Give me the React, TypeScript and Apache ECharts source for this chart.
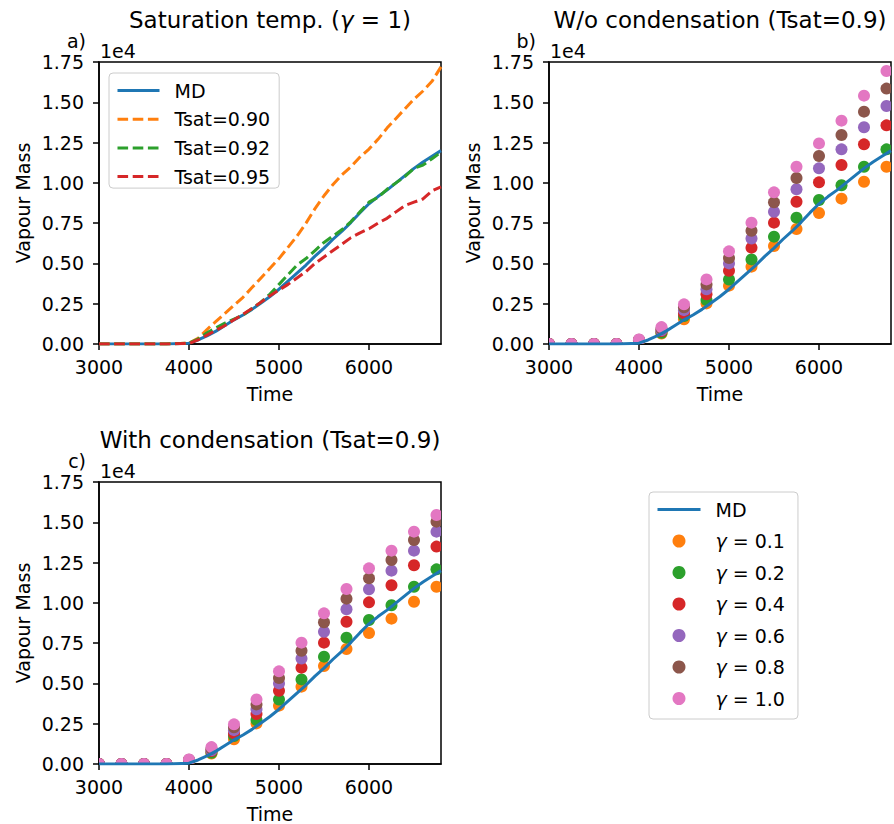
import React, { useEffect, useRef } from 'react';
import * as echarts from 'echarts';

const FONT = 'DejaVu Sans';

// ---------- Panel a: saturation temperature (gamma = 1) ----------
const timeA = [3000, 3250, 3500, 3750, 4000, 4100, 4200, 4300, 4400, 4500, 4600, 4700, 4800, 4900, 5000, 5100, 5200, 5300, 5400, 5500, 5600, 5700, 5800, 5900, 6000, 6100, 6200, 6300, 6400, 6500, 6600, 6700, 6800];
const mdMass = [0, 0, 0, 0, 0.005, 0.025, 0.05, 0.08, 0.115, 0.15, 0.18, 0.215, 0.255, 0.295, 0.34, 0.39, 0.44, 0.49, 0.545, 0.595, 0.65, 0.7, 0.755, 0.815, 0.87, 0.915, 0.955, 1.0, 1.045, 1.09, 1.13, 1.165, 1.2];
const tsat090 = [0, 0, 0, 0, 0.005, 0.035, 0.09, 0.14, 0.19, 0.24, 0.29, 0.35, 0.41, 0.47, 0.53, 0.6, 0.67, 0.75, 0.84, 0.92, 0.99, 1.05, 1.1, 1.16, 1.21, 1.27, 1.34, 1.4, 1.46, 1.52, 1.57, 1.63, 1.72];
const tsat092 = [0, 0, 0, 0, 0.005, 0.03, 0.07, 0.1, 0.13, 0.155, 0.18, 0.22, 0.26, 0.31, 0.37, 0.43, 0.49, 0.53, 0.58, 0.63, 0.67, 0.71, 0.76, 0.82, 0.88, 0.91, 0.96, 1.0, 1.04, 1.09, 1.11, 1.15, 1.19];
const tsat095 = [0, 0, 0, 0, 0.003, 0.025, 0.055, 0.085, 0.115, 0.15, 0.185, 0.22, 0.26, 0.3, 0.335, 0.37, 0.41, 0.45, 0.5, 0.54, 0.58, 0.62, 0.66, 0.69, 0.715, 0.75, 0.78, 0.82, 0.86, 0.88, 0.9, 0.95, 0.975];

// ---------- Panels b and c: dots ----------
const timeDots = [3000, 3250, 3500, 3750, 4000, 4250, 4500, 4750, 5000, 5250, 5500, 5750, 6000, 6250, 6500, 6750];
const gammaNames = ['γ = 0.1', 'γ = 0.2', 'γ = 0.4', 'γ = 0.6', 'γ = 0.8', 'γ = 1.0'];
const gammaColors = ['#ff7f0e', '#2ca02c', '#d62728', '#9467bd', '#8c564b', '#e377c2'];

// W/o condensation (Tsat = 0.9)
const noCond01 = [0, 0, 0, 0, 0.02, 0.065, 0.153, 0.252, 0.362, 0.48, 0.608, 0.714, 0.813, 0.902, 1.007, 1.10];
const noCond02 = [0, 0, 0, 0, 0.02, 0.07, 0.174, 0.273, 0.40, 0.525, 0.666, 0.784, 0.894, 0.985, 1.10, 1.208];
const noCond04 = [0, 0, 0, 0, 0.022, 0.08, 0.19, 0.308, 0.455, 0.598, 0.753, 0.883, 1.003, 1.111, 1.239, 1.357];
const noCond06 = [0, 0, 0, 0, 0.024, 0.085, 0.21, 0.339, 0.50, 0.654, 0.821, 0.96, 1.09, 1.208, 1.345, 1.477];
const noCond08 = [0, 0, 0, 0, 0.026, 0.095, 0.228, 0.37, 0.534, 0.703, 0.879, 1.03, 1.167, 1.297, 1.442, 1.585];
const noCond10 = [0, 0, 0, 0, 0.028, 0.105, 0.246, 0.401, 0.575, 0.753, 0.941, 1.10, 1.245, 1.386, 1.541, 1.694];

// With condensation (Tsat = 0.9)
const cond01 = [0, 0, 0, 0, 0.02, 0.065, 0.153, 0.252, 0.362, 0.48, 0.608, 0.714, 0.813, 0.902, 1.007, 1.10];
const cond02 = [0, 0, 0, 0, 0.02, 0.07, 0.174, 0.273, 0.40, 0.525, 0.666, 0.784, 0.894, 0.985, 1.10, 1.208];
const cond04 = [0, 0, 0, 0, 0.022, 0.08, 0.19, 0.31, 0.455, 0.598, 0.753, 0.883, 1.003, 1.109, 1.233, 1.349];
const cond06 = [0, 0, 0, 0, 0.024, 0.085, 0.21, 0.34, 0.50, 0.654, 0.821, 0.96, 1.084, 1.20, 1.324, 1.442];
const cond08 = [0, 0, 0, 0, 0.026, 0.095, 0.228, 0.37, 0.534, 0.703, 0.879, 1.026, 1.152, 1.266, 1.39, 1.504];
const cond10 = [0, 0, 0, 0, 0.028, 0.105, 0.246, 0.40, 0.575, 0.753, 0.935, 1.086, 1.214, 1.324, 1.442, 1.545];

const xTicks = [3000, 4000, 5000, 6000];
const yTickStep = 0.25;

const noCondSets = [noCond01, noCond02, noCond04, noCond06, noCond08, noCond10];
const condSets = [cond01, cond02, cond04, cond06, cond08, cond10];

const BLUE = '#1f77b4';

function buildOption() {
  const grids = [
    { left: 99, top: 62, width: 342, height: 282 },
    { left: 549, top: 62, width: 342, height: 282 },
    { left: 99, top: 482, width: 342, height: 282 },
  ].map((g) => ({ ...g, show: true, borderColor: '#000', borderWidth: 1.5, backgroundColor: 'transparent' }));

  const tickStyle = { color: '#000', fontSize: 19, fontFamily: FONT };

  const xAxes = [0, 1, 2].map((i) => ({
    type: 'value',
    gridIndex: i,
    min: 3000,
    max: 6800,
    name: 'Time',
    nameLocation: 'middle',
    nameGap: 40,
    nameTextStyle: { ...tickStyle },
    axisLine: { show: true, onZero: false, lineStyle: { color: '#000', width: 1.5 } },
    axisTick: { show: true, length: 6, lineStyle: { color: '#000', width: 1.5 }, customValues: xTicks },
    axisLabel: { ...tickStyle, margin: 13, customValues: xTicks, formatter: (v: number) => String(v) },
    splitLine: { show: false },
  }));

  const yAxes = [0, 1, 2].map((i) => ({
    type: 'value',
    gridIndex: i,
    min: 0,
    max: 1.75,
    interval: yTickStep,
    name: 'Vapour Mass',
    nameLocation: 'middle',
    nameRotate: 90,
    nameGap: 67,
    nameTextStyle: { ...tickStyle },
    axisLine: { show: true, onZero: false, lineStyle: { color: '#000', width: 1.5 } },
    axisTick: { show: true, length: 6, lineStyle: { color: '#000', width: 1.5 } },
    axisLabel: { ...tickStyle, margin: 15, formatter: (v: number) => v.toFixed(2) },
    splitLine: { show: false },
  }));

  const lineSeries = (name: string, color: string, vals: number[], idx: number, dashed: boolean, z: number) => ({
    type: 'line',
    name,
    xAxisIndex: idx,
    yAxisIndex: idx,
    data: timeA.map((t, k) => [t, vals[k]]),
    symbol: 'none',
    showSymbol: false,
    smooth: false,
    z,
    itemStyle: { color, opacity: 0 },
    lineStyle: { color, width: 3, type: dashed ? [10.6, 4.6] : 'solid' },
    emphasis: { disabled: true },
  });

  const dotSeries = (name: string, color: string, vals: number[], idx: number) => ({
    type: 'custom',
    name,
    xAxisIndex: idx,
    yAxisIndex: idx,
    clip: true,
    z: 2,
    itemStyle: { color },
    encode: { x: 0, y: 1 },
    data: timeDots.map((t, k) => [t, vals[k]]),
    renderItem: (params: any, api: any) => {
      const p = api.coord([api.value(0), api.value(1)]);
      return { type: 'circle', shape: { cx: p[0], cy: p[1], r: 6 }, style: { fill: color } };
    },
  });

  const series: any[] = [
    lineSeries('MD', BLUE, mdMass, 0, false, 2),
    lineSeries('Tsat=0.90', '#ff7f0e', tsat090, 0, true, 2),
    lineSeries('Tsat=0.92', '#2ca02c', tsat092, 0, true, 2),
    lineSeries('Tsat=0.95', '#d62728', tsat095, 0, true, 2),
  ];
  gammaNames.forEach((n, k) => series.push(dotSeries(n, gammaColors[k], noCondSets[k], 1)));
  series.push(lineSeries('MD', BLUE, mdMass, 1, false, 3));
  gammaNames.forEach((n, k) => series.push(dotSeries(n, gammaColors[k], condSets[k], 2)));
  series.push(lineSeries('MD', BLUE, mdMass, 2, false, 3));

  const legendText = {
    color: '#000',
    fontSize: 19,
    fontFamily: FONT,
    padding: [0, 0, 0, 10],
    rich: {
      g: { fontSize: 19, fontFamily: FONT, fontStyle: 'italic', color: '#000' },
      t: { fontSize: 19, fontFamily: FONT, color: '#000' },
    },
  };
  const legendBox = {
    orient: 'vertical',
    backgroundColor: 'rgba(255,255,255,0.8)',
    borderColor: '#cccccc',
    borderWidth: 1,
    borderRadius: 4,
    selectedMode: false,
    textStyle: legendText,
    lineStyle: { width: 3 },
    formatter: (name: string) => (name.startsWith('γ') ? '{g|γ}{t|' + name.slice(1) + '}' : name),
  };
  const hiddenSym = { opacity: 0 };

  const legends = [
    {
      ...legendBox,
      data: ['MD', 'Tsat=0.90', 'Tsat=0.92', 'Tsat=0.95'].map((n) => ({ name: n, itemStyle: hiddenSym })),
      left: 109,
      top: 73,
      itemWidth: 42,
      itemHeight: 14,
      itemGap: 9.7,
      padding: [8, 9, 2, 7],
    },
    {
      ...legendBox,
      data: [{ name: 'MD', itemStyle: hiddenSym }, ...gammaNames.map((n) => ({ name: n, icon: 'circle' }))],
      left: 649,
      top: 492,
      itemWidth: 43,
      itemHeight: 13,
      itemGap: 12.5,
      padding: [8, 13, 11, 7],
    },
  ];

  const txt = (x: number, y: number, text: string, size: number, align: string, rich?: any) => ({
    type: 'text',
    x,
    y,
    silent: true,
    style: { text, fontSize: size, fontFamily: FONT, fill: '#000', align, verticalAlign: 'middle', rich },
  });
  const titleRich = {
    n: { fontSize: 23, fontFamily: FONT, fill: '#000' },
    i: { fontSize: 23, fontFamily: FONT, fill: '#000', fontStyle: 'italic' },
  };

  const graphic = [
    txt(270, 20, '{n|Saturation temp. (}{i|γ}{n| = 1)}', 23, 'center', titleRich),
    txt(720, 20, 'W/o condensation (Tsat=0.9)', 23, 'center'),
    txt(270, 440, 'With condensation (Tsat=0.9)', 23, 'center'),
    txt(86, 41, 'a)', 19, 'right'),
    txt(536, 41, 'b)', 19, 'right'),
    txt(86, 461, 'c)', 19, 'right'),
    txt(100, 51, '1e4', 19, 'left'),
    txt(550, 51, '1e4', 19, 'left'),
    txt(100, 471, '1e4', 19, 'left'),
  ];

  return {
    animation: false,
    backgroundColor: '#fff',
    grid: grids,
    xAxis: xAxes,
    yAxis: yAxes,
    legend: legends,
    series,
    graphic,
  };
}

export default function App() {
  const ref = useRef<HTMLDivElement>(null);
  useEffect(() => {
    if (!ref.current) return;
    const chart = echarts.init(ref.current, null, { renderer: 'svg' });
    chart.setOption(buildOption() as any);
    return () => chart.dispose();
  }, []);
  return (
    <div
      ref={ref}
      style={{ position: 'fixed', left: 0, top: 0, width: 894, height: 824, background: '#fff' }}
    />
  );
}
